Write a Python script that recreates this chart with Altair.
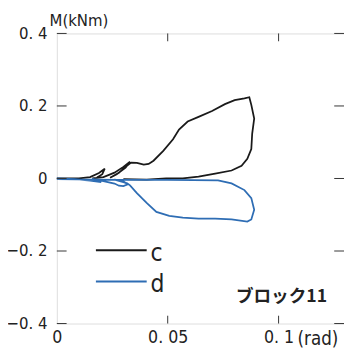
import altair as alt
import pandas as pd

# series c (black)
c_x = [0, 0.010, 0.015, 0.019, 0.0216, 0.0205, 0.018, 0.016, 0.021, 0.026, 0.030, 0.033,
       0.031, 0.027, 0.024, 0.028, 0.031, 0.0335, 0.0361, 0.0392, 0.0414, 0.0436, 0.0480,
       0.0524, 0.0551, 0.0590, 0.0639, 0.0700, 0.0758, 0.0802, 0.0846, 0.0868, 0.0877,
       0.0890, 0.0881, 0.0877, 0.0859, 0.0833, 0.0788, 0.0714, 0.0639, 0.0568, 0.0493,
       0.0405, 0.030]
c_y = [0, 0.0, 0.004, 0.015, 0.027, 0.012, 0.002, 0.0, 0.004, 0.016, 0.032, 0.046,
       0.030, 0.012, 0.002, 0.016, 0.032, 0.044, 0.043, 0.038, 0.040, 0.049, 0.076,
       0.108, 0.135, 0.157, 0.170, 0.186, 0.205, 0.216, 0.221, 0.224, 0.203,
       0.165, 0.124, 0.081, 0.054, 0.035, 0.022, 0.0135, 0.0054, 0.0, 0.0,
       -0.003, -0.002]

# series d (blue)
d_x = [0, 0.008, 0.015, 0.020, 0.018, 0.016, 0.021, 0.026, 0.028, 0.030, 0.032, 0.030,
       0.026, 0.030, 0.0317, 0.0330, 0.0361, 0.0405, 0.0449, 0.0507, 0.0568, 0.0639,
       0.0714, 0.0788, 0.0859, 0.0877, 0.0890, 0.0877, 0.0846, 0.0788, 0.0727, 0.050,
       0.0273, 0]
d_y = [0, -0.002, -0.006, -0.010, -0.004, -0.001, -0.007, -0.014, -0.020, -0.021, -0.016,
       -0.008, -0.003, -0.010, -0.0135, -0.019, -0.0405, -0.0675, -0.092, -0.103, -0.108,
       -0.111, -0.111, -0.113, -0.119, -0.113, -0.086, -0.054, -0.032, -0.0135, -0.0054,
       -0.004, -0.004, -0.002]

series_names = ["c", "d"]
series_colors = ["#1a1a1a", "#2e6db4"]
x_ticks = [0, 0.05, 0.1]
y_ticks = [-0.4, -0.2, 0, 0.2, 0.4]
annotation = ["ブロック11"]

rows = []
for i, (x, y) in enumerate(zip(c_x, c_y)):
    rows.append({"s": "c", "i": i, "x": x, "y": y})
for i, (x, y) in enumerate(zip(d_x, d_y)):
    rows.append({"s": "d", "i": i, "x": x, "y": y})
df = pd.DataFrame(rows)

FONT = "DejaVu Sans Condensed"
W, H = 294, 297
xscale = alt.Scale(domain=[0, 0.1295], nice=False, zero=False)
yscale = alt.Scale(domain=[-0.4, 0.4], nice=False, zero=False)
label_expr = "replace(format(datum.value, '.2~f'), '.', '. ')"

lines = alt.Chart(df).mark_line(strokeWidth=1.8).encode(
    x=alt.X("x:Q", scale=xscale,
            axis=alt.Axis(values=x_ticks, ticks=False, domain=False, grid=False,
                          labelExpr=label_expr, labelFlush=False, labelFont=FONT,
                          labelFontSize=18, labelColor="#222", labelPadding=5,
                          title="(rad)", titleFont=FONT, titleFontSize=19,
                          titleFontWeight="normal", titleColor="#222",
                          titleX=246, titleY=15, titleAlign="left",
                          titleBaseline="middle", titleAnchor="start")),
    y=alt.Y("y:Q", scale=yscale,
            axis=alt.Axis(values=y_ticks, ticks=False, domain=False, grid=False,
                          labelExpr=label_expr, labelFont=FONT, labelFontSize=17,
                          labelColor="#222", labelPadding=10,
                          title="M(kNm)", titleFont=FONT, titleFontSize=17,
                          titleFontWeight="normal", titleColor="#222", titleAngle=0,
                          titleX=-8, titleY=-13, titleAlign="left",
                          titleBaseline="middle")),
    color=alt.Color("s:N", scale=alt.Scale(domain=series_names, range=series_colors),
                    legend=None),
    order="i:Q",
)

yt = pd.DataFrame({"v": y_ticks})
xt = pd.DataFrame({"v": x_ticks[1:]})
tick_color = "#333"
left_ticks = alt.Chart(yt).mark_rule(color=tick_color).encode(
    y=alt.Y("v:Q", scale=yscale), x=alt.value(0), x2=alt.value(10))
right_ticks = alt.Chart(yt).mark_rule(color=tick_color).encode(
    y=alt.Y("v:Q", scale=yscale), x=alt.value(W - 10), x2=alt.value(W))
bottom_ticks = alt.Chart(xt).mark_rule(color=tick_color).encode(
    x=alt.X("v:Q", scale=xscale), y=alt.value(H - 8), y2=alt.value(H))
top_ticks = alt.Chart(xt).mark_rule(color=tick_color).encode(
    x=alt.X("v:Q", scale=xscale), y=alt.value(0), y2=alt.value(8))

# manual legend (rows 32 px apart)
legend_layers = []
for k, (name, col) in enumerate(zip(series_names, series_colors)):
    ly = 222 + 32 * k
    ldf = pd.DataFrame({"s": [name]})
    legend_layers.append(
        alt.Chart(ldf).mark_rule(color=col, strokeWidth=2).encode(
            x=alt.value(40), x2=alt.value(92), y=alt.value(ly)))
    legend_layers.append(
        alt.Chart(ldf).mark_text(font=FONT, fontSize=25, color="#222",
                                 align="left", baseline="alphabetic").encode(
            text="s:N", x=alt.value(96), y=alt.value(ly + 11)))

label = alt.Chart(pd.DataFrame({"t": annotation})).mark_text(
    font="Noto Sans CJK JP", fontSize=18, fontWeight="bold", color="#222",
    align="center", baseline="middle").encode(
    text="t:N", x=alt.value(230), y=alt.value(270))

chart = alt.layer(lines, left_ticks, right_ticks, bottom_ticks, top_ticks,
                  *legend_layers, label).properties(
    width=W, height=H,
    autosize=alt.AutoSizeParams(type="none"),
    padding={"left": 50, "top": 22, "right": 0, "bottom": 21},
).configure_view(stroke="#222", strokeWidth=1).configure(background="white")

chart.save("out.html", embed_options={"renderer": "svg", "actions": False})
